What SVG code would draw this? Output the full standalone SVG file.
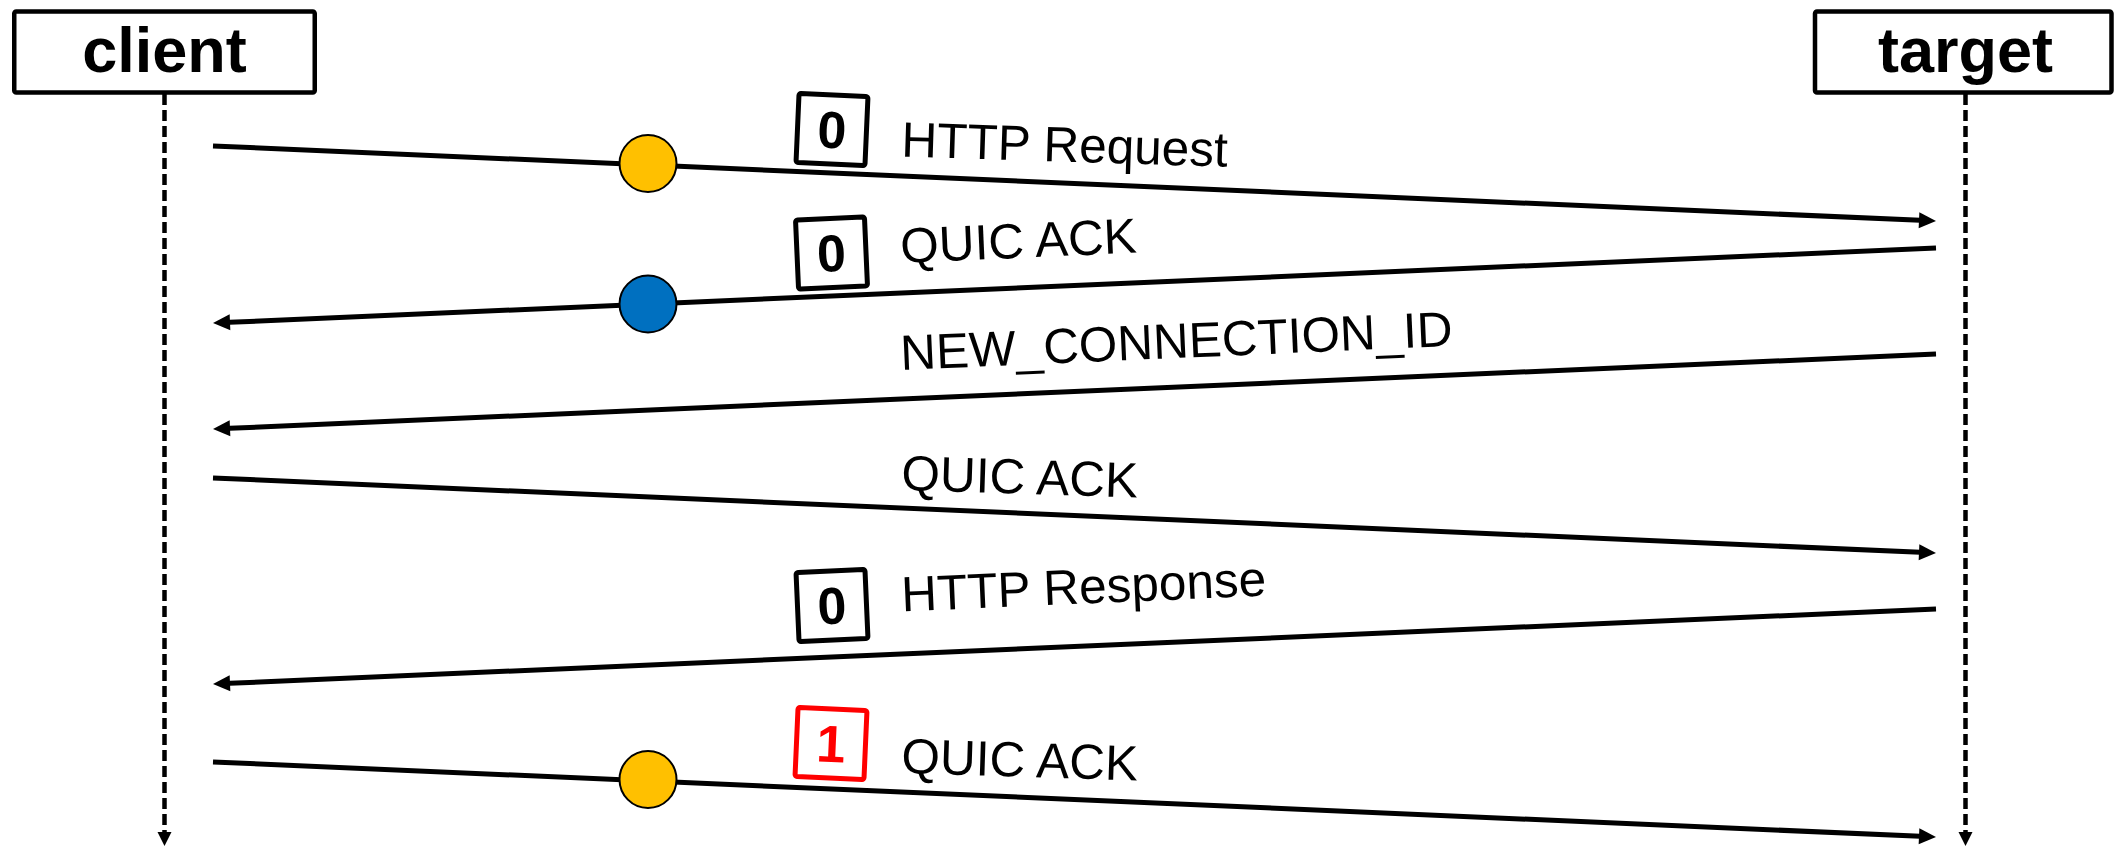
<svg xmlns="http://www.w3.org/2000/svg" width="2114" height="847" viewBox="0 0 2114 847">
<defs>
<style>
.actor{fill:#fff;stroke:#000;stroke-width:4.5}
.actorText{font-family:"Liberation Sans",Arial,sans-serif;font-weight:bold;font-size:63px;fill:#000;text-anchor:middle}
.life{stroke:#000;stroke-width:4.5;stroke-dasharray:11 5;fill:none}
.msg{stroke:#000;stroke-width:5;fill:none}
.lbl{font-family:"Liberation Sans",Arial,sans-serif;font-size:49.5px;fill:#000}
.badge{fill:#fff;stroke:#000;stroke-width:5}
.badgeRed{fill:#fff;stroke:#FF0000;stroke-width:5}
.digit{font-family:"Liberation Sans",Arial,sans-serif;font-weight:bold;font-size:52px;fill:#000;text-anchor:middle}
.digitRed{font-family:"Liberation Sans",Arial,sans-serif;font-weight:bold;font-size:52px;fill:#FF0000;text-anchor:middle}
.dotY{fill:#FFC000;stroke:#000;stroke-width:2}
.dotB{fill:#0070C0;stroke:#000;stroke-width:2}
</style>
<marker id="ah" markerUnits="userSpaceOnUse" markerWidth="17" markerHeight="16" refX="7" refY="8" orient="auto" overflow="visible">
<path d="M0,0 L17,8 L0,16 Z" fill="#000"/>
</marker>
<marker id="ahl" markerUnits="userSpaceOnUse" markerWidth="14" markerHeight="14" refX="6" refY="7" orient="auto" overflow="visible">
<path d="M0,0 L14,7 L0,14 Z" fill="#000"/>
</marker>
</defs>
<rect width="2114" height="847" fill="#fff"/>

<g id="client">
<rect class="actor" x="14.25" y="11.5" width="300.5" height="81" rx="2"/>
<text class="actorText" x="164.5" y="72">client</text>
</g>
<g id="target">
<rect class="actor" x="1815" y="11.5" width="296.5" height="81" rx="2"/>
<text class="actorText" x="1965.5" y="72">target</text>
</g>

<g id="connectors">
<line class="life" x1="164.5" y1="94" x2="164.5" y2="838" marker-end="url(#ahl)"/>
<line class="life" x1="1965.5" y1="94" x2="1965.5" y2="838" marker-end="url(#ahl)"/>
<line class="msg" x1="213" y1="146" x2="1926" y2="220.57" marker-end="url(#ah)"/>
<line class="msg" x1="1936" y1="248" x2="223" y2="322.57" marker-end="url(#ah)"/>
<line class="msg" x1="1936" y1="354" x2="223" y2="428.57" marker-end="url(#ah)"/>
<line class="msg" x1="213" y1="478" x2="1926" y2="552.57" marker-end="url(#ah)"/>
<line class="msg" x1="1936" y1="609" x2="223" y2="683.57" marker-end="url(#ah)"/>
<line class="msg" x1="213" y1="762" x2="1926" y2="836.57" marker-end="url(#ah)"/>
</g>

<g id="dot-1"><circle class="dotY" cx="648" cy="163.5" r="28.5"/></g>
<g id="dot-2"><circle class="dotB" cx="648" cy="304" r="28.5"/></g>
<g id="dot-3"><circle class="dotY" cx="648" cy="779.5" r="28.5"/></g>

<g id="label-1">
<g transform="rotate(2.5 832 129.5)">
<rect class="badge" x="797.5" y="95" width="69" height="69" rx="2"/>
<text class="digit" x="832" y="148">0</text>
</g>
<text class="lbl" x="901" y="156.5" transform="rotate(1.8 901 156.5)">HTTP Request</text>
</g>

<g id="label-2">
<g transform="rotate(-2.5 831.5 253)">
<rect class="badge" x="797" y="218.5" width="69" height="69" rx="2"/>
<text class="digit" x="831.5" y="271.5">0</text>
</g>
<text class="lbl" x="901" y="263" transform="rotate(-2.5 901 263)">QUIC ACK</text>
</g>

<g id="label-3">
<text class="lbl" x="901" y="370" transform="rotate(-2.5 901 370)">NEW_CONNECTION_ID</text>
</g>

<g id="label-4">
<text class="lbl" x="901" y="490" transform="rotate(1.8 901 490)">QUIC ACK</text>
</g>

<g id="label-5">
<g transform="rotate(-2.5 832 605.5)">
<rect class="badge" x="797.5" y="571" width="69" height="69" rx="2"/>
<text class="digit" x="832" y="624">0</text>
</g>
<text class="lbl" x="902" y="611.5" transform="rotate(-2.5 902 611.5)">HTTP Response</text>
</g>

<g id="label-6">
<g transform="rotate(2.5 831 743.5)">
<rect class="badgeRed" x="796.5" y="709" width="69" height="69" rx="2"/>
<text class="digitRed" x="831" y="762">1</text>
</g>
<text class="lbl" x="901" y="773" transform="rotate(1.8 901 773)">QUIC ACK</text>
</g>
</svg>
